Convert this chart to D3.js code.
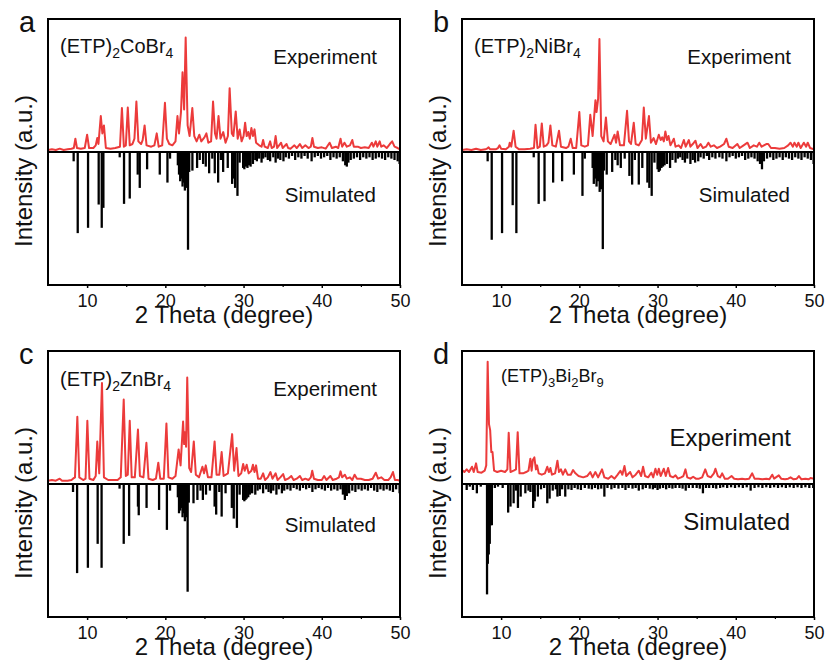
<!DOCTYPE html>
<html>
<head>
<meta charset="utf-8">
<script src="https://cdn.jsdelivr.net/npm/d3@7/dist/d3.min.js"></script>
<style>
  html, body { margin: 0; padding: 0; background: #fff; }
  svg { display: block; font-family: "Liberation Sans", Arial, Helvetica, sans-serif; }
</style>
</head>
<body>
<svg id="chart" width="827" height="666"></svg>
<script>
// Powder XRD patterns: measured (red, upward) vs. simulated from the single-crystal structure (black sticks, downward)
const thetaDomain = [5, 50];
const xTicks = [10, 20, 30, 40, 50];
const xMinorTicks = [15, 25, 35, 45];
const panelLetters = ["a", "b", "c", "d"];

// measured profile: [2θ (deg), intensity (a.u.)]
const coExp = [
[5,1.5],[5.5,2],[6,1.5],[6.5,2.5],[7,1.5],[7.5,2],[8,2.5],
[8.3,3],[8.5,10],[8.7,3],[9.2,2.5],[9.7,3],[10.0,13],[10.25,3],
[10.8,3],[11.1,5],[11.3,10.5],[11.45,6],[11.75,27],[11.95,14],[12.15,20],[12.4,3],
[13,2.5],[13.6,3],[14.2,4],[14.45,33],[14.7,4],[14.95,5],[15.2,33.5],[15.45,5],
[15.8,6],[16.05,10],[16.3,38],[16.55,8],[16.9,6],[17.1,9],[17.35,20],[17.6,5],
[18.2,4],[18.6,5],[18.9,14],[19.15,4],[19.6,5],[19.95,37],[20.2,10],
[20.5,6],[20.9,5],[21.3,8],[21.55,27],[21.75,14],[22.0,30],[22.2,60],[22.4,32],
[22.6,86],[22.85,20],[23.1,12],[23.45,33],[23.7,12],[24.0,8],[24.35,13],[24.6,8],
[25.0,11],[25.25,14],[25.5,7],[25.85,8],[26.1,38],[26.35,14],[26.55,10],[26.8,27],[27.05,10],
[27.4,15],[27.7,7],[28.0,12],[28.22,48],[28.5,14],[28.7,12],[29.0,30.5],[29.25,10],
[29.5,17],[29.75,8],[30.0,12],[30.2,22],[30.4,12],[30.6,15],[30.8,10],
[31.0,18],[31.2,12],[31.4,17],[31.6,7],[32.0,5],[32.3,4],[32.5,9],[32.7,4],[33.1,3],
[33.4,8],[33.6,3],[33.9,4],[34.1,12],[34.3,3],[34.8,7],[35.0,3],[35.5,6],[35.7,3],
[36.0,2.5],[36.5,5],[36.8,3],[37.2,6],[37.5,3],[37.9,5],[38.3,3],[38.6,4],[38.8,10.5],[39.0,4],
[39.5,3],[40.0,3.5],[40.5,2.5],[41.0,7],[41.3,3],[41.8,4],[42.1,3],[42.4,10],[42.6,4],[42.9,7],[43.2,4],
[43.6,5],[43.9,9],[44.1,4],[44.6,4],[45.0,3],[45.5,3.5],[46.0,3],
[46.4,7],[46.6,4],[46.9,8],[47.1,4],[47.4,8],[47.6,4],[47.9,5],[48.3,3],[48.7,6],[49.0,8],[49.3,4],[49.7,3],[50,2]
];
// simulated reflections: [2θ (deg), intensity (a.u.)], drawn below the zero line
const coSim = [
[8.28,7],[8.8,61],[10.12,57],[11.48,39.5],[11.87,57],[12.08,42],[14.17,4],[14.72,39],[15.45,35],[16.47,17],[16.73,27],[17.67,13],[19.29,17],[20.27,23],[20.6,5],
[21.6,10],[21.75,17],[21.9,22],[22.05,20],[22.2,26],[22.35,23],[22.5,29],[22.65,27],[22.9,73.5],[23.05,15],
[23.46,14],[24.06,12],[24.4,6],[24.83,9],[25.17,11],[25.6,16],[26.0,5],[26.32,16],[26.75,23],[27.1,6],[27.39,15],[27.98,12],[28.54,24],[28.7,20],[28.92,27],[29.22,33],[29.5,8],
[29.95,12],[30.1,13],[30.3,11],[30.5,12],[30.7,10],[30.9,11],[31.2,9],[31.5,6],[31.7,7],[32.0,5],[32.3,8],[32.5,5],[32.8,4],[33.1,6],[33.4,7],[33.8,4],[34.1,8],[34.4,5],[34.7,6],[35.1,7],[35.4,4],[35.8,5],[36.2,3],[36.6,6],[37.0,4],[37.4,5],[37.8,3],[38.2,5],[38.7,7],[39.1,4],[39.5,3],[39.9,5],[40.3,4],[40.7,3],[41.1,6],[41.5,4],[41.9,5],[42.3,4],[42.7,7],[43.0,10],[43.2,11],[43.4,8],[43.7,6],[44.1,5],[44.5,4],[44.9,6],[45.3,4],[45.7,5],[46.1,4],[46.5,6],[46.9,5],[47.3,4],[47.7,5],[48.1,6],[48.5,4],[48.9,5],[49.3,6],[49.7,7],[49.95,9]
];

const niExp = [
[5,1.5],[5.6,2],[6.2,1.5],[6.8,2.5],[7.4,1.5],[8.0,2],[8.2,2.5],[8.4,3.5],[8.6,2],[9.3,2],[9.6,3],[9.8,5],[10.0,2.5],[10.6,2],[11.0,4],[11.1,7],[11.3,4],[11.6,16],[11.85,4],[12.3,2],[13.0,2],[13.7,2.5],[14.2,3],[14.4,20.5],[14.65,3],[14.95,4],[15.2,21.5],[15.45,4],[15.8,5],[16.05,7],[16.3,20],[16.55,5],[17.0,4],[17.4,16],[17.65,4],[18.3,3],[18.6,4],[18.9,10],[19.15,3],[19.6,3],[20.0,30],[20.25,5],[20.7,4],[21.1,5],[21.4,28],[21.7,12],[22.06,39],[22.2,30],[22.4,40],[22.57,85],[22.8,12],[23.1,8],[23.4,26],[23.65,8],[24.0,6],[24.5,13],[24.7,7],[24.9,15.5],[25.2,5],[25.7,5],[26.1,31],[26.35,8],[26.6,6],[26.96,22],[27.2,6],[27.6,5],[28.0,9],[28.24,33.5],[28.5,10],[28.9,27],[29.15,7],[29.5,10.5],[29.8,6],[30.16,13],[30.4,9],[30.6,11],[30.8,8],[31.0,15.5],[31.2,9],[31.4,12],[31.65,5],[32.08,10],[32.3,4],[32.7,5],[33.0,3],[33.36,9],[33.6,4],[34.0,9],[34.2,4],[34.5,6],[34.85,8.5],[35.1,3],[35.5,6],[35.8,3],[36.2,4],[36.5,7],[36.8,4],[37.2,5],[37.6,3],[38.0,4],[38.5,6],[38.8,10],[39.1,4],[39.6,3],[40.2,6],[40.5,3],[41.0,5],[41.5,7],[41.8,3],[42.3,5],[42.7,4],[43.0,7],[43.3,4],[43.9,6],[44.15,6],[44.5,3],[45.0,3],[45.6,2.5],[46.2,3],[46.7,5],[47.0,7],[47.3,4],[47.5,7],[47.8,4],[48.0,7],[48.3,3],[48.7,7],[49.0,4],[49.2,7],[49.5,3],[50,2]
];
const niSim = [
[8.28,7],[8.8,66],[10.12,61],[11.48,40],[11.95,61],[14.17,4],[14.8,39],[15.55,37],[16.65,23],[17.8,22],[19.3,17],[20.4,33],[20.7,5],
[21.7,12],[21.85,24],[22.0,20],[22.2,26],[22.4,22],[22.6,30],[22.75,28],[23.0,73],[23.15,14],
[23.5,17],[24.2,15],[24.6,6],[24.9,10],[25.3,12],[25.8,5],[26.4,18],[26.75,24.5],[27.1,6],[27.6,24.5],[28.05,12],[28.7,23],[28.95,27],[29.25,33],[29.6,8],
[30.0,13],[30.15,15],[30.3,14],[30.5,12],[30.7,11],[30.9,10],[31.2,9],[31.6,12],[31.9,6],[32.3,8],[32.6,5],[32.9,4],[33.2,6],[33.5,8],[33.8,5],[34.2,9],[34.5,6],[34.8,8],[35.2,7],[35.5,4],[35.9,5],[36.3,3],[36.6,6],[37.0,4],[37.4,5],[37.9,4],[38.3,5],[38.8,7],[39.2,4],[39.6,3],[40.0,5],[40.4,4],[40.8,3],[41.2,6],[41.6,5],[42.0,4],[42.4,5],[42.8,7],[43.1,9],[43.35,13],[43.6,7],[44.0,5],[44.4,4],[44.8,6],[45.2,5],[45.6,4],[46.0,6],[46.4,4],[46.8,5],[47.2,6],[47.6,4],[48.0,5],[48.4,6],[48.8,4],[49.2,5],[49.6,6],[49.95,9]
];

const znExp = [
[5,2.5],[5.5,3],[6.0,2.5],[6.5,4],[6.8,2.5],[7.5,2.5],[8.0,3],[8.2,4],[8.45,5],[8.75,50.5],[9.0,5],[9.5,3],[9.8,4],[10.03,47.5],[10.3,4],[10.8,3],[11.1,6],[11.3,32],[11.55,8],[11.9,76],[12.15,5],[12.7,3],[13.3,3],[13.9,3],[14.3,5],[14.68,63.5],[14.95,6],[15.2,7],[15.45,47.5],[15.7,5],[16.1,5],[16.5,41],[16.75,6],[17.2,5],[17.58,31],[17.85,4],[18.4,3],[18.8,4],[19.1,16],[19.35,4],[19.8,4],[20.14,45.5],[20.4,5],[20.9,4],[21.3,6],[21.7,26],[21.95,14],[22.27,47],[22.4,30],[22.5,39],[22.65,28],[22.8,80],[23.05,12],[23.3,9],[23.64,32],[23.9,7],[24.3,5],[24.74,13],[24.95,8],[25.17,14],[25.45,5],[25.9,5],[26.3,32],[26.55,7],[26.9,7],[27.2,24],[27.45,6],[28.0,8],[28.54,37.5],[28.8,10],[29.1,27],[29.35,6],[29.7,8],[29.95,15],[30.15,10],[30.4,14.5],[30.65,8],[31.0,10],[31.2,14.5],[31.4,9],[31.6,14],[31.85,4],[32.2,4],[32.5,8],[32.75,3],[33.1,5],[33.44,9],[33.7,4],[34.1,8],[34.35,3],[34.7,5],[35.06,7.5],[35.3,3],[35.7,4],[36.1,6],[36.4,3],[36.8,4],[37.2,6],[37.5,3],[37.9,4],[38.3,3],[38.6,5],[38.78,10],[39.0,4],[39.5,3],[40.0,3],[40.3,6],[40.6,3],[41.1,6],[41.4,3],[41.9,4],[42.2,5],[42.4,9.5],[42.6,5],[42.95,7],[43.2,4],[43.6,5],[43.9,3],[44.2,7],[44.5,4],[45.0,4],[45.5,3],[46.0,3],[46.5,4],[46.9,8.5],[47.2,4],[47.6,5],[48.0,3],[48.5,3],[48.8,5],[49.1,9],[49.35,3],[49.7,3],[50,2.5]
];
const znSim = [
[8.2,6],[8.72,67],[10.1,63],[11.35,45],[11.85,63],[14.15,3.5],[14.68,45],[15.37,39],[16.5,17],[16.6,23.5],[17.6,18],[19.2,19.5],[20.2,34.5],[20.6,5],
[21.6,10],[21.75,22],[21.9,20],[22.05,18],[22.2,25],[22.35,22],[22.5,28],[22.65,25],[22.85,81],[23.0,14],
[23.6,14.5],[24.1,12],[24.5,5],[24.8,12],[25.2,8],[25.7,5],[26.3,17],[26.5,23],[26.9,6],[27.2,24.5],[27.7,7],[28.5,18],[28.75,26],[29.15,33],[29.5,8],
[29.95,12],[30.1,13],[30.25,12],[30.4,11],[30.6,10],[30.8,8],[31.1,7],[31.5,8],[31.8,5],[32.1,4],[32.5,7],[32.9,4],[33.2,6],[33.5,7],[33.8,5],[34.2,8],[34.5,4],[34.9,7],[35.2,5],[35.6,4],[36.0,5],[36.4,3],[36.8,4],[37.2,5],[37.6,3],[38.0,4],[38.4,3],[38.8,6],[39.2,4],[39.6,3],[40.0,4],[40.4,5],[40.8,3],[41.2,5],[41.6,4],[42.0,5],[42.4,4],[42.7,8],[42.95,12],[43.2,9],[43.5,7],[43.9,5],[44.3,6],[44.7,4],[45.1,5],[45.5,4],[45.9,5],[46.3,3],[46.7,5],[47.1,6],[47.5,4],[47.9,5],[48.3,4],[48.7,5],[49.1,6],[49.5,4],[49.95,7]
];

const biExp = [
[5,10.5],[5.3,9],[5.6,11],[5.9,9],[6.28,13],[6.5,9],[6.8,15.5],[7.0,9],[7.5,8.5],[7.9,10],[8.1,14],[8.28,92],[8.45,45],[8.6,40.5],[8.75,24],[8.9,24],[9.1,10],[9.5,9],[10.0,10],[10.5,9],[10.8,11],[10.97,38.5],[11.2,9],[11.6,10],[11.9,11],[12.12,39],[12.35,8],[12.8,8],[13.2,9],[13.5,10],[13.74,19],[13.9,10],[14.05,18],[14.25,20],[14.45,11],[14.6,14],[14.8,8],[15.2,7],[15.6,8],[15.9,13],[16.1,9],[16.3,12],[16.5,7],[16.9,8],[17.2,17.5],[17.4,9],[17.65,11],[17.9,7],[18.2,11],[18.5,7],[18.9,7],[19.2,10.5],[19.5,8],[19.9,6],[20.5,5],[21.0,6],[21.4,9],[21.7,5],[22.05,9],[22.4,5],[22.9,11],[23.2,5],[23.7,4],[24.1,6],[24.5,4],[24.9,7],[25.25,10],[25.5,7],[25.77,13.5],[26.0,6],[26.5,9],[26.8,5],[27.2,7],[27.6,10],[27.9,6],[28.15,13],[28.4,6],[28.8,5],[29.2,8.5],[29.45,5],[29.73,11.5],[29.95,7],[30.16,11.5],[30.4,6],[30.8,11.5],[31.05,6],[31.35,12],[31.6,6],[32.0,5],[32.3,6.5],[32.6,4],[33.0,5],[33.3,6],[33.57,11],[33.8,5],[34.2,4],[34.55,5.5],[34.9,4],[35.3,4],[35.7,5],[36.1,11],[36.4,6],[36.8,5],[37.2,8],[37.4,11.5],[37.7,6],[38.0,5],[38.26,8],[38.6,4],[39.0,4],[39.46,6],[39.8,4],[40.3,3.5],[40.8,4],[41.2,3.5],[41.7,4],[42.1,8],[42.4,4],[42.9,4],[43.4,3.5],[43.9,4],[44.3,3.5],[44.66,7],[44.9,4],[45.5,6.5],[45.8,4],[46.3,3.5],[46.7,4],[47.0,5],[47.4,3.5],[47.8,4],[48.07,6],[48.4,3.5],[48.9,4],[49.3,3.5],[49.56,4.5],[50,4]
];
const biSim = [
[5.6,4.5],[6.0,2],[6.4,4.5],[6.9,7],[7.4,2],[8.2,83],[8.3,60],[8.42,53],[8.55,45],[8.7,31],[8.82,31],[9.2,3],[9.6,2],[10.2,3],[10.9,21.5],[11.2,17],[11.6,14.5],[11.9,5],[12.15,18],[12.5,9.5],[13.1,7],[13.5,5],[13.75,6],[14.1,18],[14.3,13],[14.7,9.5],[15.1,4],[15.5,3],[15.9,14.5],[16.2,11],[16.6,5],[17.0,4],[17.2,9.5],[17.5,9],[17.8,4],[18.2,9.5],[18.6,4],[19.0,4.5],[19.4,3],[19.8,4],[20.2,4.5],[20.7,3],[21.2,3.5],[21.6,4],[22.0,3],[22.4,4],[22.8,3.5],[23.2,9.5],[23.6,3],[24.1,4],[24.5,3],[25.0,3.5],[25.5,3],[25.9,4.5],[26.3,3],[26.8,3.5],[27.2,3],[27.6,5],[28.1,4],[28.5,3],[29.0,3.5],[29.4,4],[29.7,3],[30.0,4.5],[30.3,3.5],[30.7,3],[31.1,4],[31.5,3],[31.9,3.5],[32.3,3],[32.8,3],[33.2,3.5],[33.6,5],[34.0,3],[34.5,3],[35.0,3],[35.4,3.5],[35.8,7],[36.2,3],[36.6,3],[37.1,3],[37.5,3.5],[38.0,3],[38.4,2.5],[38.9,3],[39.4,2.5],[39.9,3],[40.4,2.5],[40.9,3],[41.4,2.5],[41.9,5],[42.4,3],[42.9,2.5],[43.4,3],[43.9,2.5],[44.4,3],[44.9,2.5],[45.4,3],[45.9,2.5],[46.4,3],[46.9,2.5],[47.4,3],[47.9,2.5],[48.4,3],[48.9,2.5],[49.4,3],[49.9,3]
];

// compound names as [text, isSubscript] runs
const coName = [["(ETP)",0],["2",1],["CoBr",0],["4",1]];
const niName = [["(ETP)",0],["2",1],["NiBr",0],["4",1]];
const znName = [["(ETP)",0],["2",1],["ZnBr",0],["4",1]];
const biName = [["(ETP)",0],["3",1],["Bi",0],["2",1],["Br",0],["9",1]];

const RED = "#ec3b3b";
const INK = "#111";

const panels = [
  { letter: panelLetters[0], ox: 0,   oy: 0,   exp: coExp, sim: coSim, name: coName, nameSize: 20, subSize: 14, nameX: 60, nameY: 53, capSize: 20.5, expY: 64, simY: 202 },
  { letter: panelLetters[1], ox: 414, oy: 0,   exp: niExp, sim: niSim, name: niName, nameSize: 20, subSize: 14, nameX: 60, nameY: 53, capSize: 20.5, expY: 64, simY: 202 },
  { letter: panelLetters[2], ox: 0,   oy: 332, exp: znExp, sim: znSim, name: znName, nameSize: 20, subSize: 14, nameX: 60, nameY: 54, capSize: 20.5, expY: 64, simY: 200 },
  { letter: panelLetters[3], ox: 414, oy: 332, exp: biExp, sim: biSim, name: biName, nameSize: 18, subSize: 13, nameX: 87, nameY: 50, capSize: 24, expY: 114, simY: 198 }
];

const svg = d3.select("#chart");
const frame = { left: 48, right: 400, top: 19, bottom: 285 };

const x = d3.scaleLinear().domain(thetaDomain).range([frame.left, frame.right]);
const y = d3.scaleLinear().domain([-100, 100]).range([frame.bottom, frame.top]);

panels.forEach(p => {
  const g = svg.append("g").attr("transform", `translate(${p.ox},${p.oy})`);

  const clipId = "clip-" + p.letter;
  g.append("clipPath").attr("id", clipId)
    .append("rect")
    .attr("x", frame.left).attr("y", frame.top)
    .attr("width", frame.right - frame.left).attr("height", frame.bottom - frame.top);

  const plot = g.append("g").attr("clip-path", `url(#${clipId})`);

  // simulated reflections as sticks pointing down
  plot.append("g").selectAll("line")
    .data(p.sim)
    .join("line")
    .attr("x1", d => x(d[0])).attr("x2", d => x(d[0]))
    .attr("y1", y(0)).attr("y2", d => y(-d[1]))
    .attr("stroke", "#000").attr("stroke-width", 2.3);

  // zero line
  plot.append("line")
    .attr("x1", x(thetaDomain[0])).attr("x2", x(thetaDomain[1]))
    .attr("y1", y(0)).attr("y2", y(0))
    .attr("stroke", "#000").attr("stroke-width", 2);

  // measured profile
  const line = d3.line().x(d => x(d[0])).y(d => y(d[1]));
  plot.append("path")
    .datum(p.exp)
    .attr("d", line)
    .attr("fill", "none")
    .attr("stroke", RED)
    .attr("stroke-width", 2)
    .attr("stroke-linejoin", "round");

  // bottom axis
  const axis = g.append("g").attr("transform", `translate(0,${frame.bottom})`);
  axis.call(d3.axisBottom(x).tickValues(xTicks).tickSize(3).tickPadding(6).tickFormat(d3.format("d")));
  axis.select(".domain").remove();
  axis.selectAll(".tick line").attr("stroke", "#000").attr("stroke-width", 1.5);
  axis.selectAll(".tick text").attr("font-size", 18).attr("fill", INK)
    .attr("font-family", "'Liberation Sans', Arial, sans-serif");
  const minor = g.append("g").attr("transform", `translate(0,${frame.bottom})`);
  minor.call(d3.axisBottom(x).tickValues(xMinorTicks).tickSize(2).tickFormat(""));
  minor.select(".domain").remove();
  minor.selectAll(".tick line").attr("stroke", "#000").attr("stroke-width", 1.2);

  // frame
  g.append("rect")
    .attr("x", frame.left).attr("y", frame.top)
    .attr("width", frame.right - frame.left).attr("height", frame.bottom - frame.top)
    .attr("fill", "none").attr("stroke", "#000").attr("stroke-width", 2);

  // axis titles
  g.append("text")
    .attr("x", (frame.left + frame.right) / 2).attr("y", 323)
    .attr("text-anchor", "middle").attr("font-size", 24).attr("fill", INK)
    .text("2 Theta (degree)");
  g.append("text")
    .attr("transform", "translate(32,171) rotate(-90)")
    .attr("text-anchor", "middle").attr("font-size", 24).attr("fill", INK)
    .text("Intensity (a.u.)");

  // panel letter
  g.append("text")
    .attr("x", 19).attr("y", 32)
    .attr("font-size", 29).attr("fill", INK)
    .text(p.letter);

  // compound name with subscripts
  const name = g.append("text")
    .attr("x", p.nameX).attr("y", p.nameY)
    .attr("font-size", p.nameSize).attr("fill", INK);
  let prevSub = false;
  p.name.forEach(([t, sub]) => {
    const shift = p.nameSize * 0.27;
    const dy = sub && !prevSub ? shift : (!sub && prevSub ? -shift : 0);
    name.append("tspan")
      .attr("dy", dy)
      .attr("font-size", sub ? p.subSize : p.nameSize)
      .text(t);
    prevSub = !!sub;
  });

  // series captions
  g.append("text")
    .attr("x", 377).attr("y", p.expY)
    .attr("text-anchor", "end").attr("font-size", p.capSize).attr("fill", INK)
    .text("Experiment");
  g.append("text")
    .attr("x", 376).attr("y", p.simY)
    .attr("text-anchor", "end").attr("font-size", p.capSize).attr("fill", INK)
    .text("Simulated");
});
</script>
</body>
</html>
